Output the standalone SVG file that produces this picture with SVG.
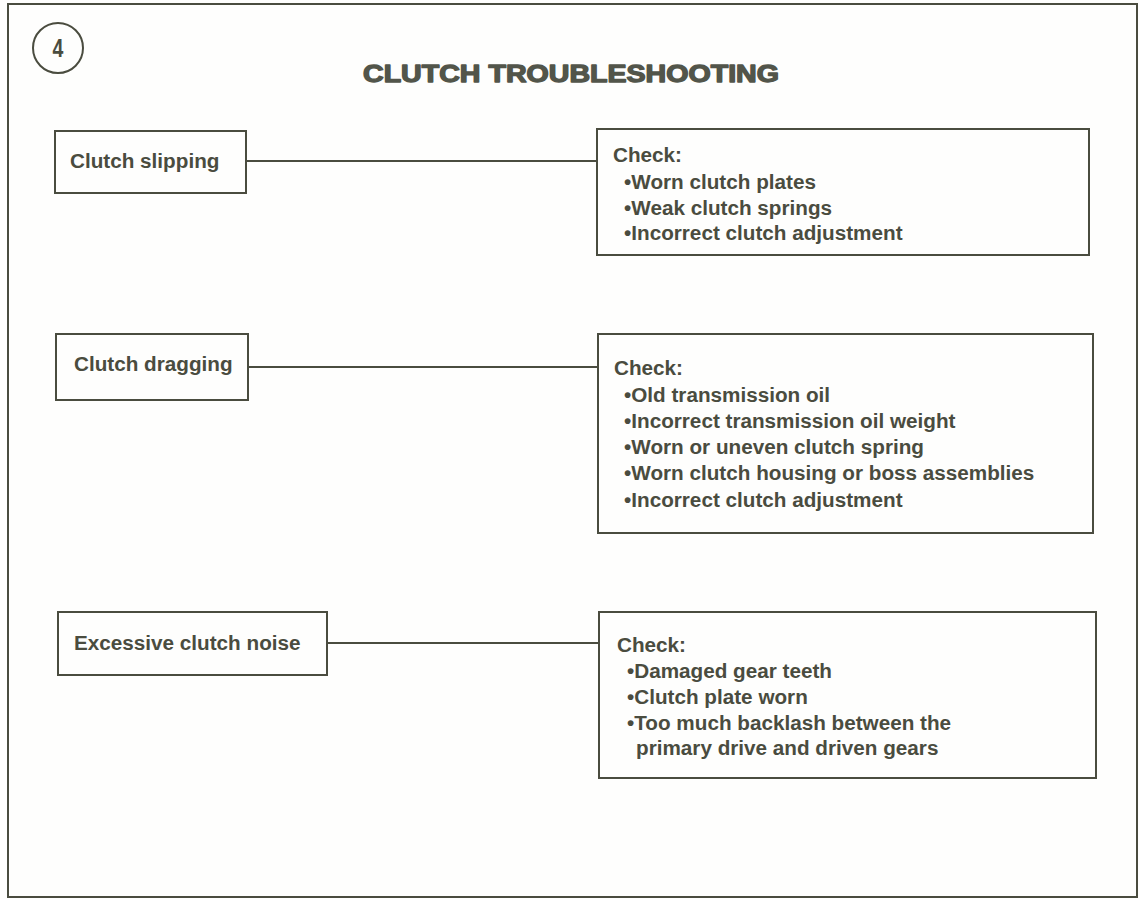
<svg xmlns="http://www.w3.org/2000/svg" width="1139" height="899" viewBox="0 0 1139 899">
<style>
.box{fill:none;stroke:#4a4c3f;stroke-width:2}
.ln{stroke:#4a4c3f;stroke-width:2;fill:none}
.t{font-family:"Liberation Sans",Arial,sans-serif;font-weight:bold;font-size:20.7px;fill:#4a4c3f}
.title{font-family:"Liberation Sans",Arial,sans-serif;font-weight:bold;font-size:23px;fill:#52554a;stroke:#52554a;stroke-width:1.3;stroke-linejoin:round}
.num{font-family:"Liberation Sans",Arial,sans-serif;font-weight:bold;font-size:25px;fill:#4a4c3f}
</style>
<rect width="1139" height="899" fill="#fefefd"/>
<rect x="8" y="4" width="1129" height="893" class="box"/>
<g id="badge">
<circle cx="58" cy="48" r="25" class="ln" stroke-width="1.8"/>
<text x="0" y="0" class="num" text-anchor="middle" transform="translate(58 57) scale(0.78 1)">4</text>
</g>
<text id="title" x="363" y="82" class="title" textLength="416" lengthAdjust="spacingAndGlyphs">CLUTCH TROUBLESHOOTING</text>
<g id="connectors">
<line x1="246" y1="161" x2="597" y2="161" class="ln"/>
<line x1="248" y1="367" x2="598" y2="367" class="ln"/>
<line x1="327" y1="643" x2="599" y2="643" class="ln"/>
</g>
<g id="n-slipping">
<rect x="55" y="131" width="191" height="62" class="box"/>
<text x="70" y="168" class="t">Clutch slipping</text>
</g>
<g id="n-dragging">
<rect x="56" y="334" width="192" height="66" class="box"/>
<text x="74" y="371" class="t">Clutch dragging</text>
</g>
<g id="n-noise">
<rect x="58" y="612" width="269" height="63" class="box"/>
<text x="74" y="650" class="t">Excessive clutch noise</text>
</g>
<g id="c-slipping">
<rect x="597" y="129" width="492" height="126" class="box"/>
<text x="613" y="162" class="t">Check:</text>
<text x="624" y="189" class="t">•Worn clutch plates</text>
<text x="624" y="215" class="t">•Weak clutch springs</text>
<text x="624" y="240" class="t">•Incorrect clutch adjustment</text>
</g>
<g id="c-dragging">
<rect x="598" y="334" width="495" height="199" class="box"/>
<text x="614" y="375" class="t">Check:</text>
<text x="624" y="402" class="t">•Old transmission oil</text>
<text x="624" y="428" class="t">•Incorrect transmission oil weight</text>
<text x="624" y="454" class="t">•Worn or uneven clutch spring</text>
<text x="624" y="480" class="t">•Worn clutch housing or boss assemblies</text>
<text x="624" y="507" class="t">•Incorrect clutch adjustment</text>
</g>
<g id="c-noise">
<rect x="599" y="612" width="497" height="166" class="box"/>
<text x="617" y="652" class="t">Check:</text>
<text x="627" y="678" class="t">•Damaged gear teeth</text>
<text x="627" y="704" class="t">•Clutch plate worn</text>
<text x="627" y="730" class="t">•Too much backlash between the</text>
<text x="636" y="755" class="t">primary drive and driven gears</text>
</g>
</svg>
